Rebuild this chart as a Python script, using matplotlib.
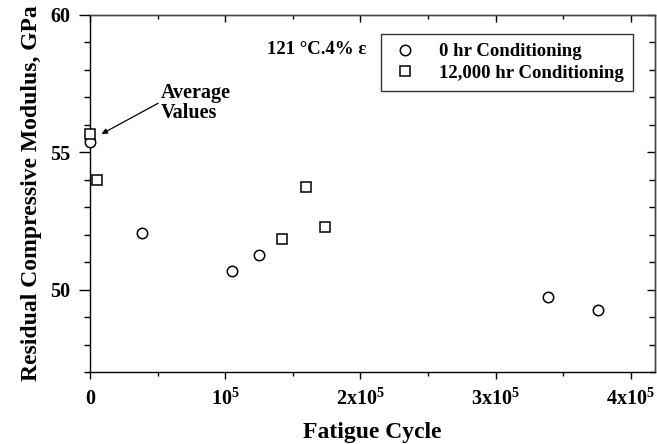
import matplotlib
matplotlib.use("Agg")
import matplotlib.pyplot as plt
from matplotlib.ticker import MultipleLocator, FixedLocator

plt.rcParams['font.family'] = ['Liberation Serif', 'DejaVu Serif']
plt.rcParams['font.weight'] = 'bold'
plt.rcParams['mathtext.fontset'] = 'custom'
plt.rcParams['mathtext.rm'] = 'Liberation Serif:bold'
plt.rcParams['mathtext.bf'] = 'Liberation Serif:bold'
plt.rcParams['mathtext.it'] = 'Liberation Serif:bold'

# Data
circ_x = [0, 3.84e4, 1.047e5, 1.247e5, 3.39e5, 3.757e5]
circ_y = [55.37, 52.06, 50.68, 51.27, 49.72, 49.24]
sq_x = [0, 4.9e3, 1.417e5, 1.596e5, 1.737e5]
sq_y = [55.67, 53.99, 51.85, 53.75, 52.28]
x_ticks = [0, 1e5, 2e5, 3e5, 4e5]
x_ticklabels = ['0', r'$\mathrm{10^5}$', r'$\mathrm{2x10^5}$', r'$\mathrm{3x10^5}$', r'$\mathrm{4x10^5}$']
y_ticks = [50, 55, 60]
y_ticklabels = ['50', '55', '60']

fig = plt.figure(figsize=(6.57, 4.44), dpi=100)
ax = fig.add_axes([90/657, 1-372/444, (655-90)/657, (372-15)/444])

ax.plot(circ_x, circ_y, linestyle='none', marker='o', markersize=7.5,
        markerfacecolor='white', markeredgecolor='black', markeredgewidth=1.1,
        label='0 hr Conditioning', clip_on=False, zorder=3)
ax.plot(sq_x, sq_y, linestyle='none', marker='s', markersize=6.7,
        markerfacecolor='white', markeredgecolor='black', markeredgewidth=1.1,
        label='12,000 hr Conditioning', clip_on=False, zorder=3)

ax.set_xlim(0, 4.18e5)
ax.set_ylim(47, 60)
ax.xaxis.set_major_locator(FixedLocator(x_ticks))
ax.set_xticklabels(x_ticklabels)
ax.xaxis.set_minor_locator(MultipleLocator(5e4))
ax.yaxis.set_major_locator(FixedLocator(y_ticks))
ax.set_yticklabels(y_ticklabels)
ax.yaxis.set_minor_locator(MultipleLocator(1))

ax.tick_params(axis='both', which='both', top=False, right=False, labelsize=14.5, width=1.0)
ax.tick_params(axis='x', which='major', direction='out', length=5, pad=7)
ax.tick_params(axis='x', which='minor', direction='out', length=3)
ax.tick_params(axis='y', which='major', direction='out', length=8, pad=6)
ax.tick_params(axis='y', which='minor', direction='out', length=4)
for lab in ax.get_xticklabels() + ax.get_yticklabels():
    lab.set_fontweight('bold')

# inward ticks on top and right
secx = ax.secondary_xaxis('top')
secx.xaxis.set_major_locator(FixedLocator(x_ticks))
secx.xaxis.set_minor_locator(MultipleLocator(5e4))
secx.tick_params(which='major', direction='in', length=5, width=1.0, labeltop=False)
secx.tick_params(which='minor', direction='in', length=3, width=1.0)
secy = ax.secondary_yaxis('right')
secy.yaxis.set_major_locator(FixedLocator(y_ticks))
secy.yaxis.set_minor_locator(MultipleLocator(1))
secy.tick_params(which='major', direction='in', length=6, width=1.0, labelright=False)
secy.tick_params(which='minor', direction='in', length=4, width=1.0)
for s in (secx.spines['top'], secy.spines['right']):
    s.set_linewidth(1.0)
    s.set_color('#444444')

for s in ax.spines.values():
    s.set_linewidth(1.0)
ax.spines['top'].set_color('#444444')
ax.spines['right'].set_color('#444444')

ax.set_xlabel('Fatigue Cycle', fontsize=17, fontweight='bold', labelpad=9)
ax.set_ylabel('Residual Compressive Modulus, GPa', fontsize=17, fontweight='bold', labelpad=6)

leg = ax.legend(loc='upper left', bbox_to_anchor=((381-90)/565, 1-(34-15)/357),
                frameon=True, fancybox=False, edgecolor='black', fontsize=13.5,
                handletextpad=1.0, borderpad=0.5, labelspacing=0.22,
                handlelength=1.6, borderaxespad=0)
leg.get_frame().set_linewidth(1.0)
for t in leg.get_texts():
    t.set_fontweight('bold')

ax.text((267-90)/565, 1-(49-15)/357, '121 °C.4% ε', transform=ax.transAxes, fontsize=13.5,
        fontweight='bold', ha='left', va='center')

ax.annotate('Average\nValues', xy=(8.6e3, 55.67), xytext=(5.25e4, 56.8),
            fontsize=14.5, fontweight='bold', ha='left', va='center',
            linespacing=0.95,
            arrowprops=dict(arrowstyle='-|>', color='black', lw=0.9,
                            mutation_scale=8, shrinkA=0, shrinkB=0,
                            relpos=(-0.03, 0.5)))

fig.savefig('out.png', dpi=100)
